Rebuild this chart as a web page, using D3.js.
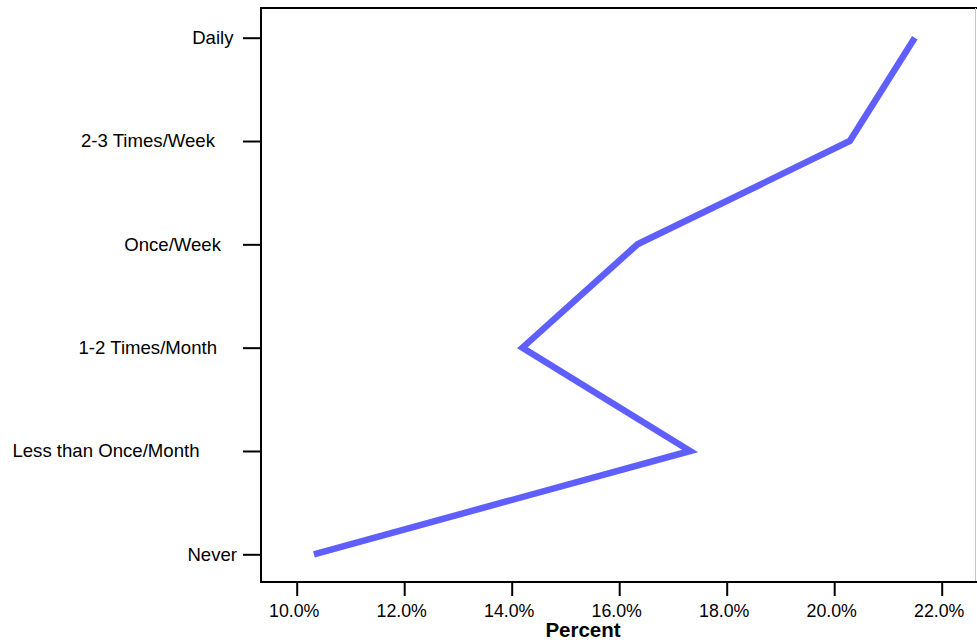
<!DOCTYPE html>
<html>
<head>
<meta charset="utf-8">
<script src="https://cdn.jsdelivr.net/npm/d3@7"></script>
<style>
  html, body { margin: 0; padding: 0; background: #fff; }
  svg { display: block; }
  text { font-family: "Liberation Sans", Arial, Helvetica, sans-serif; fill: #000; }
</style>
</head>
<body>
<svg id="chart" width="977" height="643"></svg>
<script>
// ---- data ----
const categories = ["Daily", "2-3 Times/Week", "Once/Week", "1-2 Times/Month", "Less than Once/Month", "Never"];
const percents = [21.50, 20.29, 16.34, 14.20, 17.32, 10.32];
const xTickValues = [10, 12, 14, 16, 18, 20, 22];
const xTitle = "Percent";
// per-label right-side padding (layout, px) to mimic the original label placement
const labelPad = [3.5, 22, 16, 20, 37.5, 0];

// ---- layout ----
const W = 977, H = 643;
const frame = { left: 261, top: 8, right: 976, bottom: 582 };

const svg = d3.select("#chart");

const x = d3.scaleLinear().domain([10, 22]).range([296.7, 941.7]);
const y = d3.scalePoint().domain(categories).range([37.7, 554.3]);

// frame: top and right (light), left and bottom axes black
svg.append("line").attr("x1", frame.left).attr("x2", W).attr("y1", frame.top).attr("y2", frame.top)
  .attr("stroke", "#000").attr("stroke-width", 2);
svg.append("line").attr("x1", frame.right - 0.5).attr("x2", frame.right - 0.5).attr("y1", frame.top).attr("y2", frame.bottom)
  .attr("stroke", "#c8c8c8").attr("stroke-width", 1);

// x axis
const xAxis = d3.axisBottom(x).tickValues(xTickValues).tickSize(14).tickPadding(8)
  .tickFormat(d => d.toFixed(1) + "%");
const gx = svg.append("g").attr("transform", `translate(0,${frame.bottom})`).call(xAxis);
gx.select(".domain").attr("d", `M${frame.left},0H${W}`).attr("stroke", "#000").attr("stroke-width", 2);
gx.selectAll(".tick line").attr("stroke", "#000").attr("stroke-width", 2);
gx.selectAll(".tick text").attr("font-size", "17.8px").attr("font-family", "Liberation Sans, Arial, sans-serif")
  .attr("fill", "#000").attr("dy", "0.71em").attr("dx", -3);

// y axis
const yAxis = d3.axisLeft(y).tickSize(18).tickPadding(6);
const gy = svg.append("g").attr("transform", `translate(${frame.left},0)`).call(yAxis);
gy.select(".domain").attr("d", `M0,${frame.top - 1}V${frame.bottom + 1}`).attr("stroke", "#000").attr("stroke-width", 2);
gy.selectAll(".tick line").attr("stroke", "#000").attr("stroke-width", 2);
gy.selectAll(".tick text").attr("font-size", "18.6px").attr("font-family", "Liberation Sans, Arial, sans-serif")
  .attr("fill", "#000")
  .attr("x", (d, i) => -24 - labelPad[i]);

// x title
svg.append("text").attr("x", 583).attr("y", 637).attr("text-anchor", "middle")
  .attr("font-size", "20.5px").attr("font-weight", "bold").text(xTitle);

// line
const data = categories.map((c, i) => ({ c, v: percents[i] }));
const line = d3.line().x(d => x(d.v)).y(d => y(d.c));
svg.append("path").datum(data).attr("d", line)
  .attr("fill", "none").attr("stroke", "#5f5fff").attr("stroke-width", 6.5)
  .attr("stroke-linejoin", "miter").attr("stroke-linecap", "butt");
</script>
</body>
</html>
